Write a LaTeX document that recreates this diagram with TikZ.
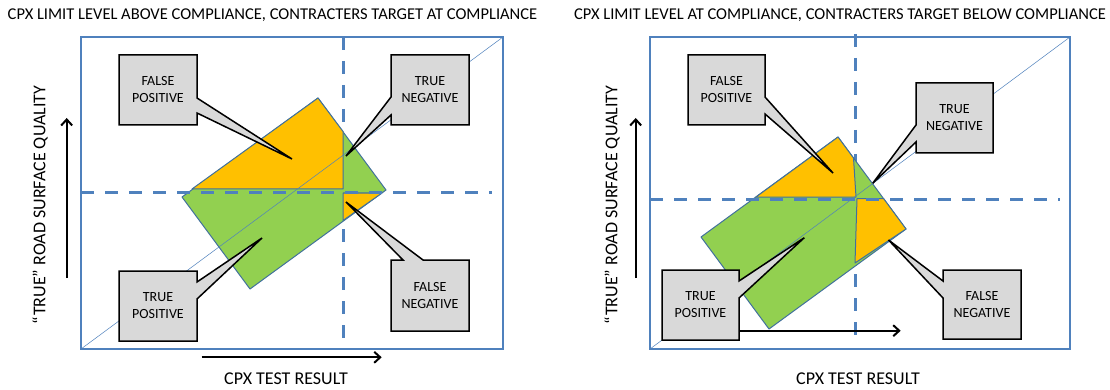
\documentclass[tikz,border=0pt]{standalone}
\usepackage{fontspec}
\setmainfont{Carlito}
\usetikzlibrary{arrows.meta}
\definecolor{frameblue}{HTML}{4F81BD}
\definecolor{outlineblue}{HTML}{41719C}
\definecolor{fillgreen}{HTML}{92D050}
\definecolor{fillorange}{HTML}{FFC000}
\definecolor{boxgrey}{HTML}{D9D9D9}
\tikzset{
  frame/.style={draw=frameblue, line width=1.2pt},
  diag/.style={draw=frameblue, line width=0.5pt},
  dashline/.style={draw=frameblue, line width=3pt, dash pattern=on 13pt off 11pt},
  greenshape/.style={fill=fillgreen, draw=outlineblue, line width=1pt, line join=round},
  orangeshape/.style={fill=fillorange, draw=outlineblue, line width=1pt, line join=round},
  callout/.style={fill=boxgrey, draw=black, line width=1.5pt, line join=miter},
  boxtext/.style={align=center, font=\fontsize{14}{17}\selectfont, inner sep=0pt},
  titletext/.style={font=\fontsize{16.5}{19}\selectfont, inner sep=0pt},
  axistext/.style={font=\fontsize{18}{21}\selectfont, inner sep=0pt},
  axisarrow/.style={draw=black, line width=2.2pt, -{Straight Barb[length=6pt,width=11pt,line width=2pt]}}
}
\begin{document}
\begin{tikzpicture}[x=1pt,y=-1pt]
\useasboundingbox (0,0) rectangle (1110,390);
\fill[white] (0,0) rectangle (1110,390);

% ================= LEFT PANEL =================
\node[titletext] (titleL) at (272.5,15.5) {CPX LIMIT LEVEL ABOVE COMPLIANCE, CONTRACTERS TARGET AT COMPLIANCE};
\draw[frame] (81,37) rectangle (503,349);
\draw[dashline] (343.3,37) -- (343.3,342);
% shapes
\draw[greenshape] (182,197) -- (318,98) -- (386,190) -- (250,289) -- cycle;
\draw[orangeshape] (192,189) -- (318,98) -- (343,131.5) -- (343,189) -- cycle;
\draw[orangeshape] (343,193) -- (382,193) -- (343,220.5) -- cycle;
\draw[diag] (81,349) -- (503,37);
\draw[dashline] (81,192.7) -- (492,192.7);
% callouts
\draw[callout] (119,55) -- (197,55) -- (197,98) -- (292,159) -- (197,113) -- (197,125) -- (119,125) -- cycle;
\node[boxtext] (fpL) at (158,90) {FALSE\\POSITIVE};
\draw[callout] (391,55) -- (469,55) -- (469,125) -- (391,125) -- (391,115) -- (346,156) -- (391,97) -- cycle;
\node[boxtext] (tnL) at (430,90) {TRUE\\NEGATIVE};
\draw[callout] (119,271) -- (197,271) -- (197,282) -- (262,238) -- (197,299) -- (197,341) -- (119,341) -- cycle;
\node[boxtext] (tpL) at (158,306) {TRUE\\POSITIVE};
\draw[callout] (391,260) -- (403,260) -- (346,202) -- (423,260) -- (469,260) -- (469,331) -- (391,331) -- cycle;
\node[boxtext] (fnL) at (430,295.5) {FALSE\\NEGATIVE};
% axes
\coordinate (vLa) at (66.7,278);
\coordinate (vLb) at (66.7,118);
\draw[axisarrow] (vLa) -- (vLb);
\coordinate (hLa) at (201.7,357.3);
\coordinate (hLb) at (381.7,357.3);
\draw[axisarrow] (hLa) -- (hLb);
\node[axistext, rotate=90] (yL) at (40,205) {“TRUE” ROAD SURFACE QUALITY};
\node[axistext] (xL) at (286,379) {CPX TEST RESULT};

% ================= RIGHT PANEL =================
\node[titletext] (titleR) at (840,15.5) {CPX LIMIT LEVEL AT COMPLIANCE, CONTRACTERS TARGET BELOW COMPLIANCE};
\draw[frame] (650,37) rectangle (1070,349);
\draw[dashline] (855.3,34) -- (855.3,337);
% shapes
\draw[greenshape] (701,237) -- (838,137) -- (906,229) -- (769,329) -- cycle;
\draw[orangeshape] (756,197) -- (838,137) -- (853.5,158) -- (856,197) -- cycle;
\draw[orangeshape] (857,198.5) -- (883.5,198.5) -- (906,229) -- (855,263) -- cycle;
\draw[diag] (650,349) -- (1070,37);
\draw[dashline] (650,199) -- (1060,199);
% callouts
\draw[callout] (688,55) -- (765,55) -- (765,97) -- (833,173) -- (765,114) -- (765,125) -- (688,125) -- cycle;
\node[boxtext] (fpR) at (726.5,90) {FALSE\\POSITIVE};
\draw[callout] (916,83) -- (993,83) -- (993,153) -- (916,153) -- (916,142) -- (872.7,183.3) -- (916,125) -- cycle;
\node[boxtext] (tnR) at (954.5,118) {TRUE\\NEGATIVE};
% axis arrow behind TP box
\coordinate (hRa) at (739,330.7);
\coordinate (hRb) at (900.7,330.7);
\draw[axisarrow] (hRa) -- (hRb);
\draw[callout] (662,270) -- (739,270) -- (739,281) -- (804.3,237.7) -- (739,298) -- (739,340) -- (662,340) -- cycle;
\node[boxtext] (tpR) at (700.5,305) {TRUE\\POSITIVE};
\draw[callout] (943,270) -- (1021,270) -- (1021,339) -- (943,339) -- (943,298) -- (888.5,240) -- (943,281) -- cycle;
\node[boxtext] (fnR) at (982,304.5) {FALSE\\NEGATIVE};
\coordinate (vRa) at (635.7,278);
\coordinate (vRb) at (635.7,118);
\draw[axisarrow] (vRa) -- (vRb);
\node[axistext, rotate=90] (yR) at (612,205) {“TRUE” ROAD SURFACE QUALITY};
\node[axistext] (xR) at (858,379) {CPX TEST RESULT};
\end{tikzpicture}
\end{document}
